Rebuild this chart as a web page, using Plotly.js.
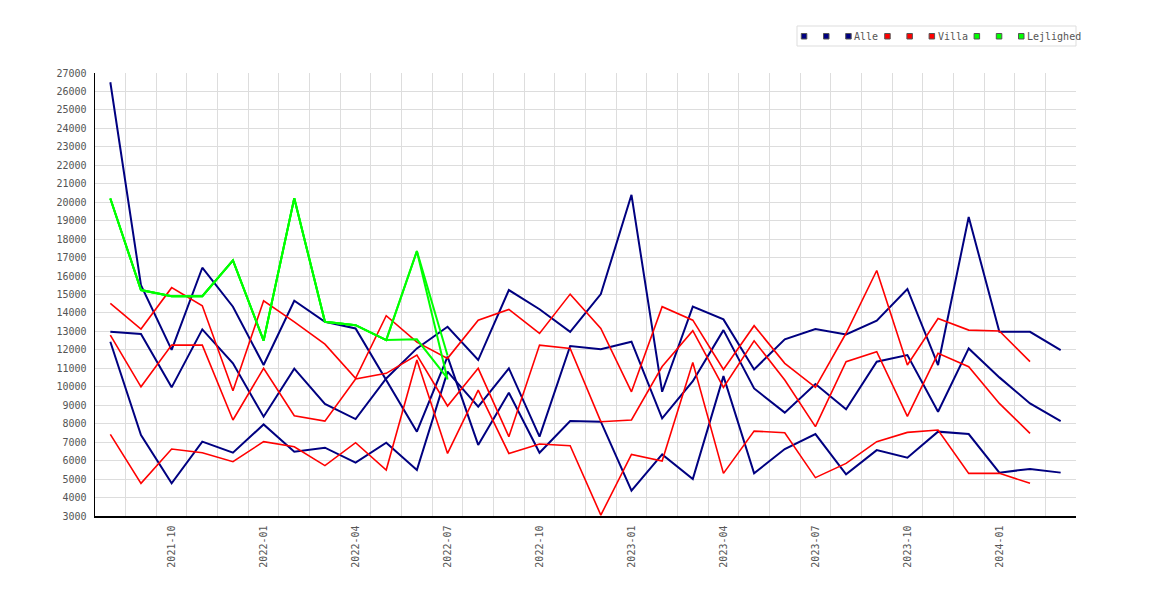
<!DOCTYPE html>
<html>
<head>
<meta charset="utf-8">
<script src="https://cdn.plot.ly/plotly-3.0.1.min.js"></script>
<style>
html,body{margin:0;padding:0;background:#fff;}
#chart{width:1170px;height:600px;}
</style>
</head>
<body>
<div id="chart"></div>
<script>
// ---- data ----
const months = ['2021-08','2021-09','2021-10','2021-11','2021-12','2022-01','2022-02','2022-03','2022-04','2022-05','2022-06','2022-07',
  '2022-08','2022-09','2022-10','2022-11','2022-12','2023-01','2023-02','2023-03','2023-04','2023-05','2023-06','2023-07',
  '2023-08','2023-09','2023-10','2023-11','2023-12','2024-01','2024-02','2024-03'];
const tickLabels = ['2021-10','2022-01','2022-04','2022-07','2022-10','2023-01','2023-04','2023-07','2023-10','2024-01'];

const alle1 = [26500,15500,12000,16450,14340,11180,14660,13520,13160,10400,7570,11630,6850,9680,6430,8140,8110,4370,6340,5000,10580,5310,6630,7440,5260,6570,6160,7570,7440,5350,5550,5350];
const alle2 = [12980,12860,9970,13110,11270,8380,10980,9070,8250,10450,12080,13250,11450,15240,14200,12980,15020,20400,9730,14340,13650,10940,12570,13130,12840,13580,15300,11180,19200,12980,12980,11990];
const alle3 = [12440,7390,4770,7030,6430,7960,6480,6700,5890,6970,5490,10820,8920,11000,7300,12210,12040,12440,8290,10300,13070,9910,8600,10150,8780,11360,11720,8650,12080,10510,9100,8140];

const villa1 = [14520,13130,15370,14390,9790,14660,13520,12310,10460,13850,12420,11540,13610,14190,12890,15020,13160,9730,14340,13610,10940,13310,11270,9970,12900,16300,11180,13700,13070,13020,11360];
const villa2 = [12800,10000,12260,12260,8200,11000,8430,8140,10420,10730,11720,8960,11000,7300,12260,12080,8110,8200,11100,13040,9970,12490,10370,7840,11360,11900,8400,11810,11090,9100,7480];
const villa3 = [7420,4770,6630,6430,5940,7030,6750,5730,6970,5490,11450,6390,9820,6390,6900,6810,3050,6340,5980,11320,5310,7600,7510,5080,5850,7030,7530,7660,5310,5310,4770];

const lejl1 = [20200,15240,14910,14910,16850,12500,20220,13520,13340,12530,17350,11700];
const lejl2 = [20200,15240,14910,14910,16850,12500,20220,13520,13340,12530,17350,10400];
const lejl3 = [20200,15240,14910,14910,16850,12500,20220,13520,13340,12530,12570,10450];

const legendNames = ['', '', 'Alle', '', '', 'Villa', '', '', 'Lejlighed'];

// ---- styling ----
const NAVY = '#000080', RED = '#ff0000', GREEN = '#00ff00';
const series = [
  {y: alle1, c: NAVY, w: 2}, {y: alle2, c: NAVY, w: 2}, {y: alle3, c: NAVY, w: 2},
  {y: villa1, c: RED, w: 1.6}, {y: villa2, c: RED, w: 1.6}, {y: villa3, c: RED, w: 1.6},
  {y: lejl1, c: GREEN, w: 2}, {y: lejl2, c: GREEN, w: 2}, {y: lejl3, c: GREEN, w: 2}
];
const idx = months.map((m, i) => i);

const traces = series.map((s, k) => ({
  type: 'scatter', mode: 'lines',
  x: idx.slice(0, s.y.length), y: s.y,
  line: {color: s.c, width: s.w},
  name: legendNames[k] || ' ', showlegend: false, hoverinfo: 'skip'
}));

// plot area in px
const L = 95, R = 1076, T = 73, B = 516;
const px = x => (x - L) / (R - L);
const py = y => (B - y) / (B - T);

const FONT = {family: 'DejaVu Sans Mono, monospace', size: 10, color: '#555555'};

// manual legend (boxed row of squares + names)
const shapes = [{
  type: 'rect', xref: 'paper', yref: 'paper',
  x0: px(797), x1: px(1076), y0: py(46), y1: py(26),
  line: {color: '#dddddd', width: 1}, fillcolor: '#ffffff', layer: 'above'
}];
const annotations = [];
let cx = 801.3;
series.forEach((s, k) => {
  shapes.push({
    type: 'rect', xref: 'paper', yref: 'paper',
    x0: px(cx), x1: px(cx + 5.5), y0: py(39), y1: py(33.5),
    line: {color: '#555555', width: 1}, fillcolor: s.c, layer: 'above'
  });
  const nm = legendNames[k];
  if (nm) {
    annotations.push({
      xref: 'paper', yref: 'paper', x: px(cx + 6.5), y: py(36.5),
      xanchor: 'left', yanchor: 'middle', showarrow: false,
      text: nm, font: FONT
    });
    cx += 8.5 + nm.length * 6.0 + 6.5;
  } else {
    cx += 22.2;
  }
});

const layout = {
  width: 1170, height: 600,
  margin: {l: L, r: 1170 - R, t: T, b: 600 - B, pad: 0},
  paper_bgcolor: '#ffffff', plot_bgcolor: '#ffffff',
  showlegend: false,
  font: FONT,
  xaxis: {
    type: 'linear', range: [-0.5, months.length - 0.5],
    tickmode: 'array',
    tickvals: tickLabels.map(t => months.indexOf(t)),
    ticktext: tickLabels,
    tickangle: -90, tickfont: FONT,
    showgrid: false, zeroline: false,
    minor: {tick0: -0.5, dtick: 1, showgrid: true, gridcolor: '#dddddd', gridwidth: 1, ticks: ''},
    showline: true, linecolor: '#000000', linewidth: 1.5,
    ticks: '', ticklabelstandoff: 4
  },
  yaxis: {
    range: [3000, 27000], dtick: 1000, tick0: 3000,
    tickfont: FONT, showgrid: true, gridcolor: '#dddddd', gridwidth: 1,
    zeroline: false, showline: true, linecolor: '#000000', linewidth: 1.5,
    ticks: '', ticklabelstandoff: 5, tickformat: 'd'
  },
  shapes: shapes,
  annotations: annotations
};

Plotly.newPlot('chart', traces, layout, {displayModeBar: false, staticPlot: true});
</script>
</body>
</html>
